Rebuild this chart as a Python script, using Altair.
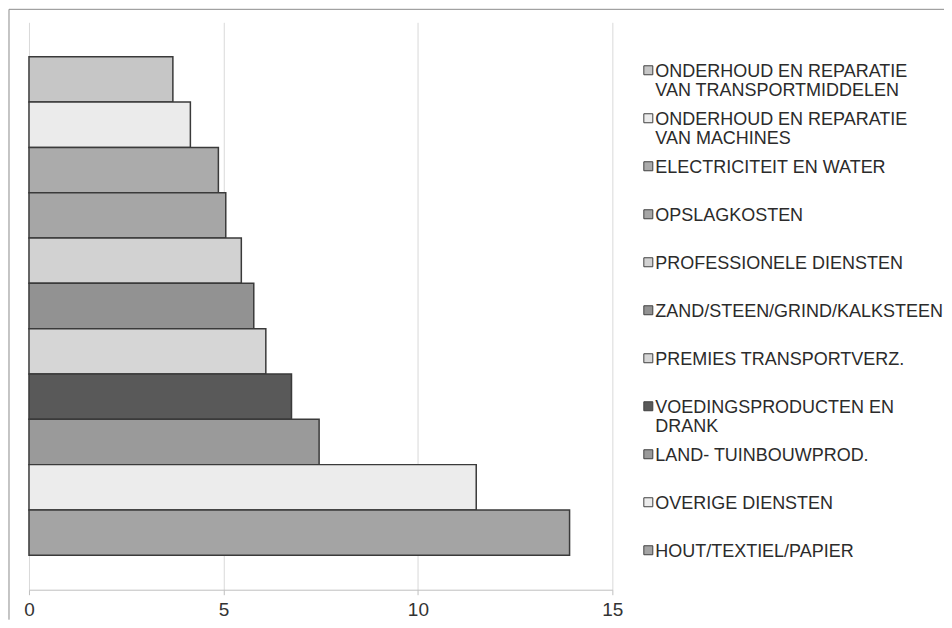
import altair as alt
import pandas as pd

categories = [
    "ONDERHOUD EN REPARATIE\nVAN TRANSPORTMIDDELEN",
    "ONDERHOUD EN REPARATIE\nVAN MACHINES",
    "ELECTRICITEIT EN WATER",
    "OPSLAGKOSTEN",
    "PROFESSIONELE DIENSTEN",
    "ZAND/STEEN/GRIND/KALKSTEEN",
    "PREMIES TRANSPORTVERZ.",
    "VOEDINGSPRODUCTEN EN\nDRANK",
    "LAND- TUINBOUWPROD.",
    "OVERIGE DIENSTEN",
    "HOUT/TEXTIEL/PAPIER",
]
values = [3.7, 4.15, 4.87, 5.06, 5.46, 5.78, 6.09, 6.75, 7.46, 11.5, 13.9]
fills = [
    "#c6c6c6", "#ebebeb", "#ababab", "#a6a6a6", "#d2d2d2", "#929292",
    "#d6d6d6", "#595959", "#9a9a9a", "#ececec", "#a4a4a4",
]
x_ticks = [0, 5, 10, 15]

df = pd.DataFrame({"category": categories, "value": values})
one = pd.DataFrame({"k": [0]})

FONT = "Liberation Sans"
FRAME = "#8c8c8c"
color_scale = alt.Scale(domain=categories, range=fills)

frame_left = alt.Chart(one).mark_rule(color=FRAME, strokeWidth=1).encode(
    x=alt.value(-20), y=alt.value(-13), y2=alt.value(598)
)
frame_top = alt.Chart(one).mark_rule(color=FRAME, strokeWidth=1).encode(
    x=alt.value(-20), x2=alt.value(917), y=alt.value(-13)
)

bars = alt.Chart(df).mark_bar(stroke="#3a3a3a", strokeWidth=1.5).encode(
    x=alt.X(
        "value:Q",
        scale=alt.Scale(domain=[0, 15], nice=False, zero=True),
        axis=alt.Axis(
            values=x_ticks, title=None, grid=True, gridColor="#d9d9d9",
            gridWidth=1, domainColor="#bfbfbf", tickColor="#bfbfbf",
            tickSize=5, labelFontSize=19, labelFont=FONT, labelColor="#333333",
            labelPadding=6, labelFlush=False, format="d",
        ),
    ),
    y=alt.Y(
        "category:N", sort=categories,
        scale=alt.Scale(domain=categories, paddingInner=0, paddingOuter=0.76),
        axis=None,
    ),
    fill=alt.Fill("category:N", scale=color_scale, legend=None),
)

y_pt = alt.Y(
    "category:N", sort=categories,
    scale=alt.Scale(type="point", domain=categories, range=[48, 528.5], padding=0),
    axis=None,
)

leg_sym = alt.Chart(df).mark_point(
    shape="square", filled=True, size=81, stroke="#404040", strokeWidth=1, opacity=1
).encode(
    x=alt.value(620), y=y_pt,
    fill=alt.Fill("category:N", scale=color_scale, legend=None),
)

leg_txt = alt.Chart(df).mark_text(
    align="left", baseline="alphabetic", dy=6.5, lineBreak="\n",
    fontSize=18, font=FONT, color="#2b2b2b", lineHeight=19.5,
).encode(x=alt.value(627), y=y_pt, text="category:N")

chart = (
    alt.layer(frame_left, frame_top, bars, leg_sym, leg_txt)
    .resolve_scale(y="independent")
    .properties(
        width=584, height=568,
        padding={"left": 0, "top": 0, "right": -2, "bottom": 0},
    )
    .configure_view(strokeWidth=0)
)

chart.save("out.html", embed_options={"renderer": "svg", "actions": False})
